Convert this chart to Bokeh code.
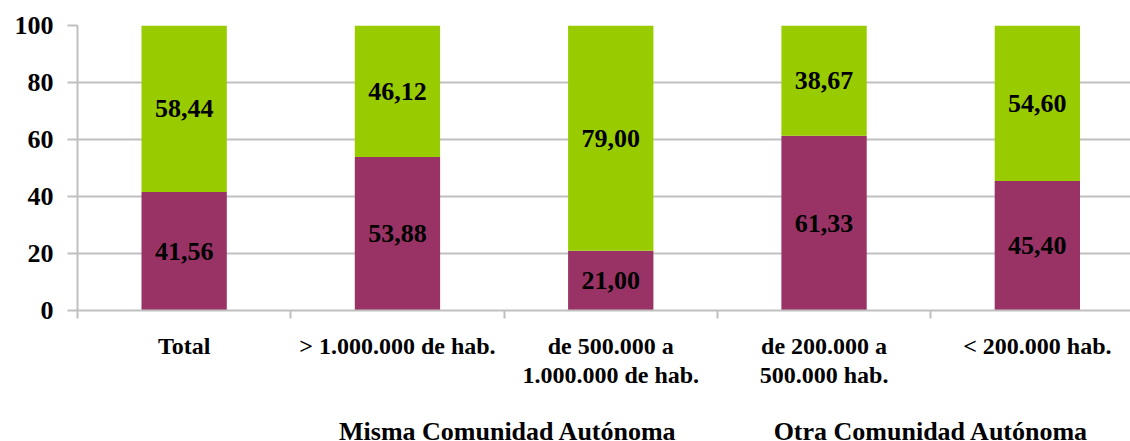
from bokeh.plotting import figure
from bokeh.layouts import column
from bokeh.models import (Range1d, FixedTicker, ColumnDataSource, Legend,
                          LegendItem, LinearAxis)
from bokeh.embed import file_html
from bokeh.resources import INLINE
from bokeh.core.properties import value

categories = ["Total", "> 1.000.000 de hab.", "de 500.000 a\n1.000.000 de hab.",
              "de 200.000 a\n500.000 hab.", "< 200.000 hab."]
misma = [41.56, 53.88, 21.00, 61.33, 45.40]
otra = [58.44, 46.12, 79.00, 38.67, 54.60]
series_names = ["Misma Comunidad Autónoma", "Otra Comunidad Autónoma"]
y_ticks = [0, 20, 40, 60, 80, 100]

MAROON = "#993366"
GREEN = "#99CC00"
GRID = "#C0C0C0"
FONT = "Liberation Serif"

xs = [i + 0.5 for i in range(len(categories))]
tops = [m + o for m, o in zip(misma, otra)]
fmt = lambda v: f"{v:.2f}".replace(".", ",")
line1 = [c.split("\n")[0] for c in categories]
line2 = [c.split("\n")[1] if "\n" in c else " " for c in categories]

src = ColumnDataSource(dict(
    x=xs, misma=misma, otra=otra, top=tops,
    ym=[m / 2 for m in misma],
    yo=[m + o / 2 for m, o in zip(misma, otra)],
    lm=[fmt(v) for v in misma],
    lo=[fmt(v) for v in otra],
))

FW = 1053
p = figure(frame_width=FW, frame_height=285,
           x_range=Range1d(0, FW / 213.3), y_range=Range1d(0, 100),
           output_backend="svg", toolbar_location=None,
           min_border_left=77, min_border_top=25, min_border_right=0,
           min_border_bottom=0)
p.outline_line_color = None
p.background_fill_color = "white"

p.vbar(x="x", bottom=0, top="misma", width=0.4, source=src,
       fill_color=MAROON, line_color=None)
p.vbar(x="x", bottom="misma", top="top", width=0.4, source=src,
       fill_color=GREEN, line_color=None)

for ycol, tcol in (("ym", "lm"), ("yo", "lo")):
    p.text(x="x", y=ycol, text=tcol, source=src, text_align="center",
           text_baseline="middle", text_font=value(FONT),
           text_font_style="bold", text_font_size="26px", text_color="black")

# grid
p.xgrid.visible = False
p.ygrid.ticker = FixedTicker(ticks=y_ticks)
p.ygrid.grid_line_color = GRID
p.ygrid.grid_line_width = 2

# y axis
ya = p.yaxis[0]
ya.ticker = FixedTicker(ticks=y_ticks)
ya.axis_line_color = GRID
ya.axis_line_width = 2
ya.major_tick_line_color = GRID
ya.major_tick_line_width = 2
ya.major_tick_out = 10
ya.major_tick_in = 0
ya.minor_tick_line_color = None
ya.major_label_standoff = 14
ya.major_label_text_font = FONT
ya.major_label_text_font_style = "bold"
ya.major_label_text_font_size = "26px"
ya.major_label_text_color = "black"

# x axis (first label line)
xa = p.xaxis[0]
xa.ticker = FixedTicker(ticks=xs, minor_ticks=list(range(len(categories))))
xa.major_label_overrides = {x: c for x, c in zip(xs, line1)}
xa.axis_line_color = GRID
xa.axis_line_width = 2
xa.major_tick_line_color = None
xa.major_tick_out = 0
xa.major_tick_in = 0
xa.minor_tick_line_color = GRID
xa.minor_tick_line_width = 2
xa.minor_tick_out = 8
xa.minor_tick_in = 0
xa.major_label_standoff = 14
xa.major_label_text_font = FONT
xa.major_label_text_font_style = "bold"
xa.major_label_text_font_size = "24px"
xa.major_label_text_color = "black"

# second label line
xa2 = LinearAxis(ticker=FixedTicker(ticks=xs, minor_ticks=[]),
                 major_label_overrides={x: c for x, c in zip(xs, line2)})
xa2.axis_line_color = None
xa2.major_tick_line_color = None
xa2.minor_tick_line_color = None
xa2.major_tick_out = 0
xa2.major_tick_in = 0
xa2.minor_tick_out = 0
xa2.minor_tick_in = 0
xa2.major_label_standoff = 0
xa2.major_label_text_font = FONT
xa2.major_label_text_font_style = "bold"
xa2.major_label_text_font_size = "24px"
xa2.major_label_text_color = "black"
p.add_layout(xa2, "below")

# legend strip
leg = figure(width=1130, height=57, x_range=Range1d(0, 1), y_range=Range1d(0, 1),
             output_backend="svg", toolbar_location=None,
             x_axis_location=None, y_axis_location=None, min_border=0)
leg.outline_line_color = None
leg.xgrid.visible = False
leg.ygrid.visible = False
lr1 = leg.vbar(x=[], top=[], width=0.4, fill_color=MAROON, line_color=None)
lr2 = leg.vbar(x=[], top=[], width=0.4, fill_color=GREEN, line_color=None)

legend = Legend(items=[LegendItem(label=series_names[0], renderers=[lr1]),
                       LegendItem(label=series_names[1], renderers=[lr2])],
                orientation="horizontal", location=(243, 0))
legend.glyph_width = 17
legend.glyph_height = 17
legend.label_standoff = 2
legend.spacing = 79
legend.padding = 0
legend.margin = 0
legend.border_line_color = None
legend.background_fill_alpha = 0
legend.label_text_font = FONT
legend.label_text_font_style = "bold"
legend.label_text_font_size = "26px"
legend.label_text_color = "black"
leg.add_layout(legend, "center")

layout = column(p, leg, spacing=0)
open("out.html", "w").write(file_html(layout, INLINE))
